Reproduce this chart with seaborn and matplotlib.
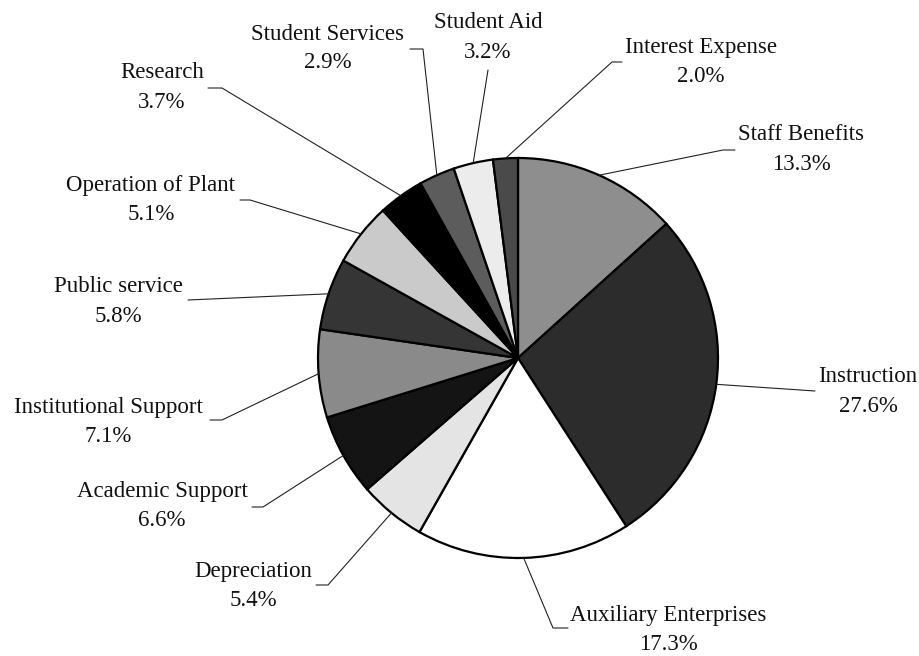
import numpy as np
import seaborn as sns
import matplotlib
matplotlib.use("Agg")
import matplotlib.pyplot as plt

# data: expense categories, clockwise from 12 o'clock
categories = ["Staff Benefits", "Instruction", "Auxiliary Enterprises", "Depreciation",
              "Academic Support", "Institutional Support", "Public service",
              "Operation of Plant", "Research", "Student Services", "Student Aid",
              "Interest Expense"]
shares = [13.3, 27.6, 17.3, 5.4, 6.6, 7.1, 5.8, 5.1, 3.7, 2.9, 3.2, 2.0]

# grayscale fills (scanned print look)
fills = ["#8e8e8e", "#2c2c2c", "#ffffff", "#e4e4e4", "#141414", "#8a8a8a",
         "#353535", "#cacaca", "#000000", "#5c5c5c", "#ececec", "#4a4a4a"]

# label layout in pixel coords (text centre, elbow of leader, end of leader)
text_xy = [(801, 149), (868, 391), (668, 629), (253, 586), (162, 506), (108, 422),
           (118, 301), (151, 199), (162, 87), (328, 48), (488, 37), (701, 62)]
elbow_xy = [(723, 150), (815, 391), (553, 628), (328, 585), (263, 507), (222, 420),
            (188, 300), (250, 200), (222, 88), (423, 49), (488, 70), (612, 62)]
end_xy = [(735, 150), (815, 391), (568, 628), (316, 585), (252, 507), (210, 420),
          (188, 300), (240, 200), (208, 88), (410, 49), (488, 70), (622, 62)]

sns.set_theme(style="white")
plt.rcParams['font.family'] = ['Liberation Serif', 'DejaVu Serif']

W, H = 920, 656
fig = plt.figure(figsize=(9.2, 6.56), dpi=100)
ax = fig.add_axes([0, 0, 1, 1])

cx, cy, R = 518, 358, 200
wedges, _ = ax.pie(shares, colors=fills, startangle=-90, counterclock=True,
                   center=(cx, cy), radius=R,
                   wedgeprops=dict(edgecolor="black", linewidth=1.6))

# pixel coordinate system, y pointing down
ax.set_xlim(0, W)
ax.set_ylim(H, 0)
ax.set_aspect("equal")
ax.axis("off")

for w, name, val, (tx, ty), (ex, ey), (kx, ky) in zip(wedges, categories, shares,
                                                      text_xy, elbow_xy, end_xy):
    mid = np.deg2rad((w.theta1 + w.theta2) / 2)
    sx, sy = cx + R * np.cos(mid), cy + R * np.sin(mid)
    ax.plot([sx, ex, kx], [sy, ey, ky], color="#222222", lw=0.8)
    ax.text(tx, ty - 14, name, ha="center", va="center", fontsize=16.5, color="#111111")
    ax.text(tx, ty + 15, f"{val:.1f}%", ha="center", va="center", fontsize=16.5, color="#111111")

plt.savefig("out.png", dpi=100)
plt.close()
